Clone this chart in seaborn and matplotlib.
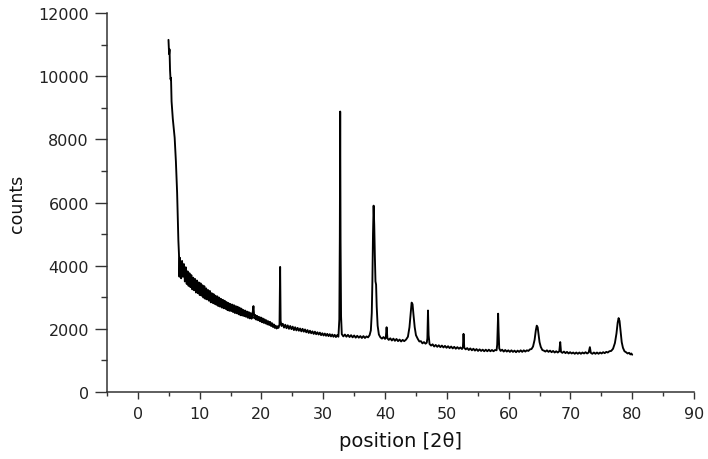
import matplotlib
matplotlib.use("Agg")
import matplotlib.pyplot as plt
import seaborn as sns
import pandas as pd
from matplotlib.ticker import MultipleLocator

# ---- data (position [2θ], counts) ----
scan_5_7 = [(4.95, 11150), (5.05, 10700), (5.12, 10850), (5.2, 10200), (5.28, 9900),
            (5.36, 9950), (5.45, 9200), (5.55, 8900), (5.65, 8650), (5.75, 8450),
            (5.85, 8250), (5.95, 8050), (6.05, 7700), (6.15, 7300), (6.25, 6800),
            (6.35, 6300), (6.45, 5500), (6.55, 4800), (6.65, 4350), (6.72, 3650),
            (6.8, 4250), (6.9, 3850)]

scan_7_23 = [(7.00, 3600), (7.15, 4150), (7.30, 3650), (7.45, 4050), (7.60, 3500),
             (7.75, 3950), (7.90, 3420), (8.05, 3820), (8.20, 3360), (8.35, 3760),
             (8.50, 3320), (8.65, 3700), (8.80, 3250), (8.95, 3620), (9.10, 3220),
             (9.25, 3580), (9.40, 3150), (9.55, 3530), (9.70, 3130), (9.85, 3470),
             (10.00, 3070), (10.15, 3440), (10.30, 3050), (10.45, 3380), (10.60, 2990),
             (10.75, 3350), (10.90, 2950), (11.05, 3280), (11.20, 2930), (11.35, 3230),
             (11.50, 2890), (11.65, 3200), (11.80, 2840), (11.95, 3130), (12.10, 2820),
             (12.25, 3100), (12.40, 2790), (12.55, 3050), (12.70, 2760), (12.85, 3030),
             (13.00, 2720), (13.15, 2990), (13.30, 2700), (13.45, 2950), (13.60, 2670),
             (13.75, 2920), (13.90, 2650), (14.05, 2890), (14.20, 2630), (14.35, 2850),
             (14.50, 2590), (14.65, 2820), (14.80, 2570), (14.95, 2790), (15.10, 2560),
             (15.25, 2770), (15.40, 2530), (15.55, 2750), (15.70, 2500), (15.85, 2720),
             (16.00, 2490), (16.15, 2700), (16.30, 2460), (16.45, 2670), (16.60, 2430),
             (16.75, 2640), (16.90, 2420), (17.05, 2600), (17.20, 2400), (17.35, 2580),
             (17.50, 2380), (17.65, 2550), (17.80, 2350), (17.95, 2530), (18.10, 2330),
             (18.25, 2500), (18.40, 2320), (18.55, 2470), (18.70, 2720), (18.85, 2330),
             (19.00, 2440), (19.15, 2290), (19.30, 2410), (19.45, 2270), (19.60, 2380),
             (19.75, 2240), (19.90, 2360), (20.05, 2210), (20.20, 2330), (20.35, 2190),
             (20.50, 2300), (20.65, 2170), (20.80, 2270), (20.95, 2140), (21.10, 2240),
             (21.25, 2120), (21.40, 2220), (21.55, 2090), (21.70, 2180), (21.85, 2060),
             (22.00, 2140), (22.15, 2030), (22.30, 2100), (22.45, 2010), (22.60, 2080),
             (22.75, 2030), (22.92, 2140)]

scan_23_33 = [(23.02, 3960), (23.1, 2250), (23.25, 2090), (23.45, 2160), (23.65, 2040),
              (23.85, 2130), (24.05, 2020), (24.25, 2110), (24.45, 2000), (24.65, 2090),
              (24.85, 1990), (25.05, 2070), (25.25, 1960), (25.45, 2050), (25.65, 1950),
              (25.85, 2030), (26.05, 1940), (26.25, 2010), (26.45, 1920), (26.65, 2000),
              (26.85, 1910), (27.05, 1980), (27.25, 1890), (27.45, 1960), (27.65, 1870),
              (27.85, 1940), (28.05, 1860), (28.25, 1920), (28.45, 1840), (28.65, 1910),
              (28.85, 1830), (29.05, 1890), (29.25, 1820), (29.45, 1880), (29.65, 1800),
              (29.85, 1860), (30.05, 1790), (30.25, 1850), (30.45, 1780), (30.65, 1840),
              (30.85, 1770), (31.05, 1830), (31.25, 1760), (31.45, 1820), (31.65, 1750),
              (31.85, 1810), (32.05, 1740), (32.25, 1800), (32.45, 1750), (32.6, 2300),
              (32.68, 4900), (32.74, 8880), (32.8, 4800), (32.88, 2400)]

scan_33_45 = [(33.0, 1830), (33.25, 1760), (33.5, 1820), (33.75, 1750), (34.0, 1810),
              (34.25, 1740), (34.5, 1800), (34.75, 1730), (35.0, 1790), (35.25, 1720),
              (35.5, 1780), (35.75, 1720), (36.0, 1770), (36.25, 1710), (36.5, 1770),
              (36.75, 1710), (37.0, 1760), (37.25, 1730), (37.5, 1800), (37.7, 1950),
              (37.85, 2500), (37.95, 3500), (38.05, 5000), (38.15, 5900), (38.25, 5300),
              (38.35, 4300), (38.45, 3500), (38.55, 3400), (38.65, 2700), (38.8, 2100),
              (39.0, 1820), (39.25, 1730), (39.5, 1690), (39.75, 1740), (40.0, 1680),
              (40.12, 1720), (40.25, 2050), (40.38, 1700), (40.6, 1650), (40.85, 1700),
              (41.1, 1630), (41.35, 1690), (41.6, 1620), (41.85, 1680), (42.1, 1610),
              (42.35, 1660), (42.6, 1600), (42.85, 1650), (43.1, 1610), (43.4, 1660),
              (43.7, 1750), (43.95, 2050), (44.15, 2500), (44.3, 2830), (44.45, 2780),
              (44.6, 2450), (44.8, 2050), (45.0, 1800)]

scan_45_60 = [(45.3, 1680), (45.55, 1600), (45.8, 1610), (46.05, 1540), (46.3, 1580),
              (46.55, 1530), (46.75, 1560), (46.85, 1700), (46.95, 2580), (47.05, 1800),
              (47.2, 1520), (47.45, 1470), (47.7, 1510), (47.95, 1440), (48.2, 1490),
              (48.45, 1430), (48.7, 1480), (48.95, 1420), (49.2, 1470), (49.45, 1410),
              (49.7, 1460), (49.95, 1400), (50.2, 1450), (50.45, 1390), (50.7, 1440),
              (50.95, 1380), (51.2, 1430), (51.45, 1370), (51.7, 1420), (51.95, 1370),
              (52.2, 1410), (52.45, 1360), (52.6, 1420), (52.7, 1840), (52.82, 1400),
              (53.05, 1350), (53.3, 1390), (53.55, 1330), (53.8, 1380), (54.05, 1320),
              (54.3, 1370), (54.55, 1310), (54.8, 1360), (55.05, 1300), (55.3, 1350),
              (55.55, 1300), (55.8, 1340), (56.05, 1290), (56.3, 1340), (56.55, 1290),
              (56.8, 1340), (57.05, 1290), (57.3, 1330), (57.55, 1290), (57.8, 1330),
              (58.05, 1320), (58.15, 1500), (58.22, 2000), (58.3, 2480), (58.38, 1900),
              (58.48, 1380), (58.7, 1300), (58.95, 1340), (59.2, 1280), (59.45, 1330),
              (59.7, 1280)]

scan_60_80 = [(59.95, 1320), (60.2, 1270), (60.45, 1320), (60.7, 1270), (60.95, 1310),
              (61.2, 1260), (61.45, 1310), (61.7, 1270), (61.95, 1320), (62.2, 1270),
              (62.45, 1320), (62.7, 1280), (62.95, 1320), (63.2, 1300), (63.45, 1350),
              (63.7, 1360), (63.95, 1440), (64.2, 1650), (64.4, 1950), (64.55, 2100),
              (64.7, 2050), (64.85, 1800), (65.0, 1580), (65.2, 1430), (65.45, 1330),
              (65.7, 1310), (65.95, 1280), (66.2, 1320), (66.45, 1270), (66.7, 1310),
              (66.95, 1260), (67.2, 1300), (67.45, 1250), (67.7, 1290), (67.95, 1250),
              (68.2, 1290), (68.35, 1580), (68.48, 1270), (68.7, 1240), (68.95, 1280),
              (69.2, 1230), (69.45, 1270), (69.7, 1220), (69.95, 1260), (70.2, 1220),
              (70.45, 1250), (70.7, 1210), (70.95, 1250), (71.2, 1210), (71.45, 1250),
              (71.7, 1210), (71.95, 1250), (72.2, 1220), (72.45, 1260), (72.7, 1220),
              (72.95, 1250), (73.15, 1420), (73.3, 1240), (73.55, 1210), (73.8, 1250),
              (74.05, 1210), (74.3, 1250), (74.55, 1210), (74.8, 1250), (75.05, 1220),
              (75.3, 1260), (75.55, 1230), (75.8, 1270), (76.05, 1250), (76.3, 1290),
              (76.6, 1300), (76.9, 1370), (77.2, 1550), (77.45, 1850), (77.65, 2200),
              (77.8, 2340), (77.95, 2250), (78.1, 1950), (78.3, 1580), (78.5, 1400),
              (78.75, 1290), (79.0, 1260), (79.25, 1220), (79.5, 1240), (79.7, 1190),
              (79.85, 1220), (80.0, 1180)]

x_ticks = [0, 10, 20, 30, 40, 50, 60, 70, 80, 90]
y_ticks = [0, 2000, 4000, 6000, 8000, 10000, 12000]

points = scan_5_7 + scan_7_23 + scan_23_33 + scan_33_45 + scan_45_60 + scan_60_80
df = pd.DataFrame(points, columns=["position", "counts"])

# ---- style ----
sns.set_theme(style="ticks")
plt.rcParams["font.family"] = ["DejaVu Sans"]

fig = plt.figure(figsize=(7.08, 4.6), dpi=100)
ax = fig.add_axes([107 / 708, 67 / 460, (694 - 107) / 708, (393 - 14) / 460])

sns.lineplot(data=df, x="position", y="counts", sort=False, estimator=None,
             color="black", linewidth=1.35, ax=ax)

ax.set_xlim(-5, 90)
ax.set_ylim(0, 12000)
ax.set_xticks(x_ticks)
ax.set_yticks(y_ticks)
ax.xaxis.set_minor_locator(MultipleLocator(5))
ax.yaxis.set_minor_locator(MultipleLocator(1000))

for s in ["top", "right"]:
    ax.spines[s].set_visible(False)
for s in ["left", "bottom"]:
    ax.spines[s].set_color("#333333")
    ax.spines[s].set_linewidth(1.1)

ax.tick_params(axis="y", which="major", direction="out", length=9, width=1.0,
               color="#333333", labelsize=11.5, labelcolor="#222222", pad=4)
ax.tick_params(axis="y", which="minor", direction="out", length=4, width=1.0,
               color="#333333")
ax.tick_params(axis="x", which="major", direction="out", length=5, width=1.0,
               color="#333333", labelsize=11.5, labelcolor="#222222", pad=5)
ax.tick_params(axis="x", which="minor", direction="out", length=3, width=1.0,
               color="#333333")

ax.set_xlabel("position [2θ]", fontsize=14, color="#111111", labelpad=7)
ax.set_ylabel("counts", fontsize=12.5, color="#111111", labelpad=9)

fig.savefig("out.png", dpi=100)
